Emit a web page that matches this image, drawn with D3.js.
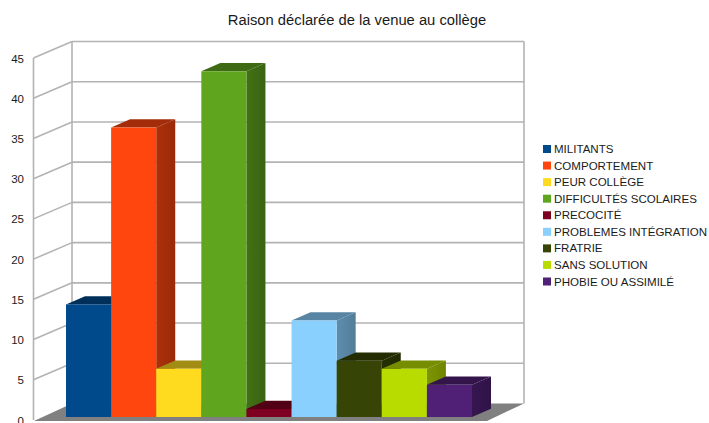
<!DOCTYPE html>
<html><head><meta charset="utf-8">
<script src="https://cdn.jsdelivr.net/npm/d3@7/dist/d3.min.js"></script>
<style>html,body{margin:0;padding:0;background:#fff;overflow:hidden}svg{display:block}text{font-family:"Liberation Sans",sans-serif;fill:#1a1a1a}</style>
</head><body><svg id="c" width="709" height="423"></svg>
<script>
const categories=["MILITANTS","COMPORTEMENT","PEUR COLLÈGE","DIFFICULTÉS SCOLAIRES","PRECOCITÉ","PROBLEMES INTÉGRATION","FRATRIE","SANS SOLUTION","PHOBIE OU ASSIMILÉ"];
const values=[14,36,6,43,1,12,7,6,4];
const colors=["#004a8c","#ff460f","#ffdb1f","#5fa61e","#7e0021","#8ad0ff","#364505","#b8dc00","#4f2075"];
const ticks=[0,5,10,15,20,25,30,35,40,45];
const title="Raison déclarée de la venue au collège";

const svg=d3.select("#c");
const yWall=d3.scaleLinear().domain([0,45]).range([420,58]);
const yBar=d3.scaleLinear().domain([0,45]).range([417,55.2]);
const x=d3.scaleBand().domain(categories).range([66,472]).padding(0);
const wallDx=38.5,wallDy=-16.5,barDx=19,barDy=-8.3;
const grid="#b3b3b3";
const poly=p=>p.map(d=>d.join(",")).join(" ");

svg.append("text").attr("x",357).attr("y",25).attr("text-anchor","middle").attr("font-size",14.75).text(title);

const defs=svg.append("defs");
colors.forEach((c,i)=>{
  const col=d3.color(c);
  const dark=k=>d3.rgb(col.r*k,col.g*k,col.b*k).formatHex();
  const gr=defs.append("linearGradient").attr("id","side"+i);
  gr.append("stop").attr("offset","0%").attr("stop-color",dark(.68));
  gr.append("stop").attr("offset","100%").attr("stop-color",dark(.6));
});

// walls
const g=svg.append("g").attr("fill","none").attr("stroke",grid).attr("stroke-width",1.6);
ticks.forEach(t=>{
  const y=yWall(t);
  if(t>0){
    g.append("line").attr("x1",33.5).attr("y1",y).attr("x2",33.5+wallDx).attr("y2",y+wallDy);
    g.append("line").attr("x1",33.5+wallDx).attr("y1",y+wallDy).attr("x2",524).attr("y2",y+wallDy);
  }
});
g.append("line").attr("x1",33.5).attr("y1",yWall(45)).attr("x2",33.5).attr("y2",yWall(0));
g.append("line").attr("x1",72).attr("y1",yWall(45)+wallDy).attr("x2",72).attr("y2",yWall(0)+wallDy);
g.append("line").attr("x1",524).attr("y1",yWall(45)+wallDy).attr("x2",524).attr("y2",yWall(0)+wallDy);

// floor
svg.append("polygon").attr("fill","#808080").attr("points",poly([[34,421],[72,yWall(0)+wallDy],[524,yWall(0)+wallDy],[487,421]]));

// tick labels
svg.append("g").selectAll("text").data(ticks).join("text")
  .attr("x",24).attr("y",d=>yWall(d)+4.5).attr("text-anchor","end").attr("font-size",11.5).text(d=>d);

// bars, painted left to right
const bars=svg.append("g").selectAll("g").data(categories).join("g");
bars.each(function(c,i){
  const b=d3.select(this),x0=x(c),x1=x0+x.bandwidth(),y0=yBar(0),yt=yBar(values[i]);
  const col=d3.color(colors[i]);
  const dark=k=>d3.rgb(col.r*k,col.g*k,col.b*k).formatHex();
  b.append("polygon").attr("fill",`url(#side${i})`).attr("points",poly([[x1,y0],[x1+barDx,y0+barDy],[x1+barDx,yt+barDy],[x1,yt]]));
  b.append("polygon").attr("fill",dark(.64)).attr("points",poly([[x0,yt],[x0+barDx,yt+barDy],[x1+barDx,yt+barDy],[x1,yt]]));
  b.append("rect").attr("x",x0).attr("y",yt).attr("width",x.bandwidth()).attr("height",y0-yt).attr("fill",colors[i]);
});

// legend
const ly=d3.scalePoint().domain(categories).range([149,281.5]);
const l=svg.append("g").selectAll("g").data(categories).join("g").attr("transform",d=>`translate(0,${ly(d)})`);
l.append("rect").attr("x",543).attr("y",-4).attr("width",8).attr("height",8).attr("fill",(d,i)=>colors[i]);
l.append("text").attr("x",554).attr("y",4).attr("font-size",11.55).text(d=>d);
</script></body></html>
